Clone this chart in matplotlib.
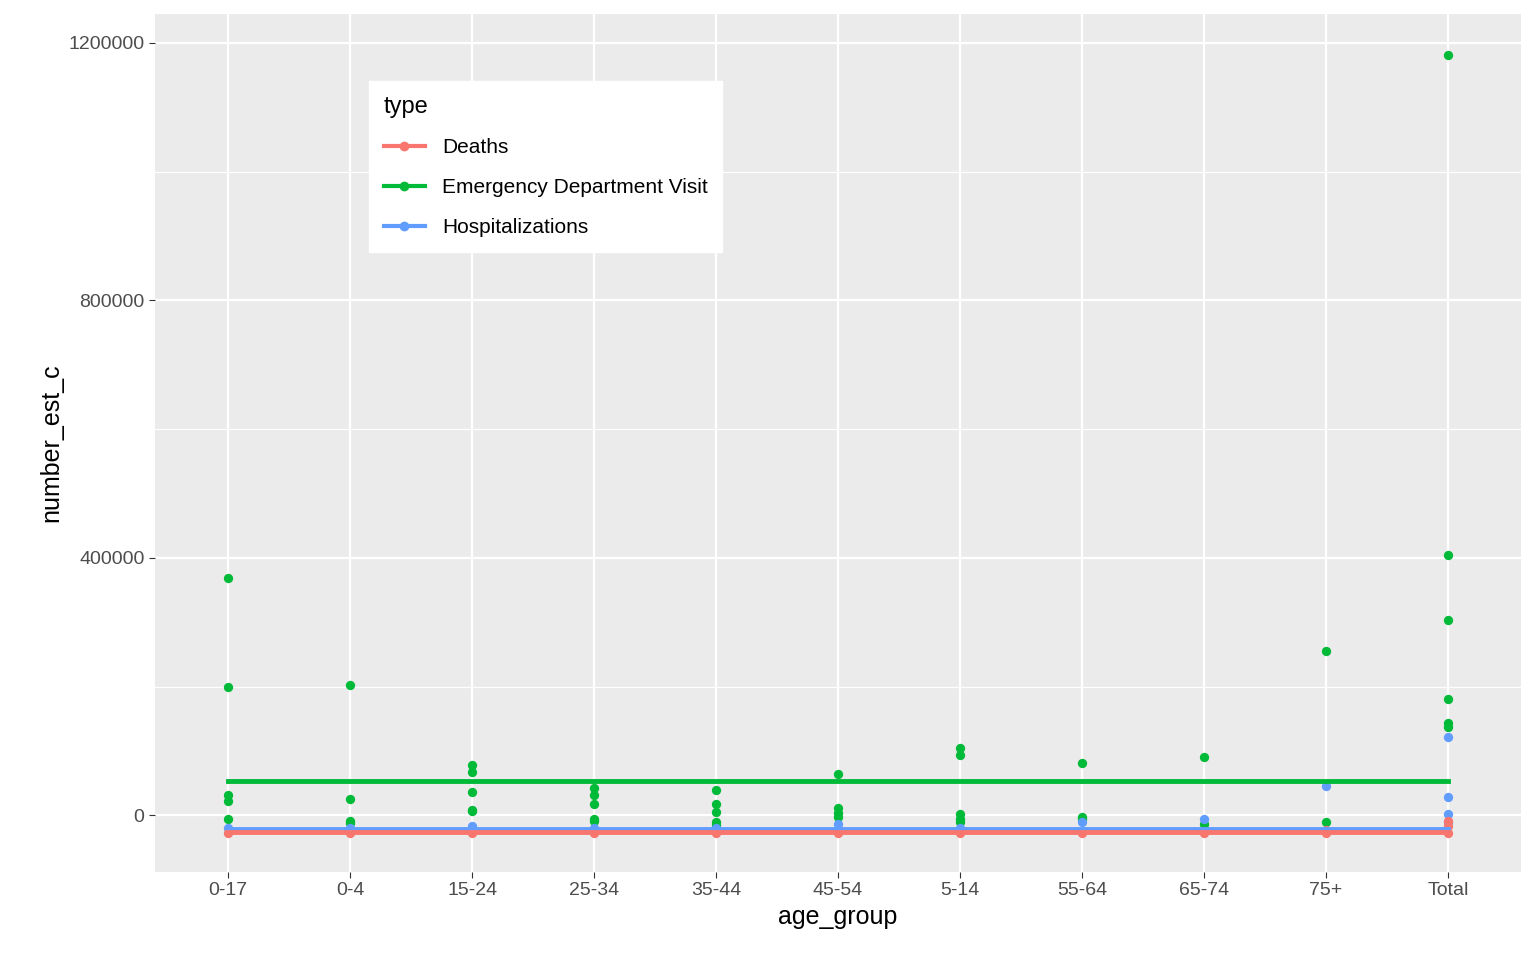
import matplotlib.pyplot as plt
from matplotlib.lines import Line2D

plt.rcParams['font.family'] = ['Liberation Sans', 'DejaVu Sans']

age_groups = ["0-17", "0-4", "15-24", "25-34", "35-44", "45-54", "5-14", "55-64", "65-74", "75+", "Total"]

ed_visits = {
    "0-17": [368000, 200000, 31000, 22000, -5000],
    "0-4": [202000, 25000, -9000, -12000],
    "15-24": [77600, 68000, 37000, 9000, 6000],
    "25-34": [43000, 31000, 17000, -6000, -9000],
    "35-44": [40000, 17000, 5000, -11000, -15000],
    "45-54": [65000, 12000, 3000, -3000],
    "5-14": [104000, 93000, 2000, -5000, -11000],
    "55-64": [82000, -2000, -6000],
    "65-74": [91000, -14000],
    "75+": [256000, -11000],
    "Total": [1181000, 404000, 304000, 180000, 144000, 137000],
}
hospitalizations = {
    "0-17": [-20000], "0-4": [-20000], "15-24": [-17000], "25-34": [-20000],
    "35-44": [-20000], "45-54": [-14000], "5-14": [-20000], "55-64": [-11000],
    "65-74": [-5000], "75+": [45000], "Total": [121000, 29000, 1500, -11000],
}
deaths = {
    "0-17": [-28000], "0-4": [-28000], "15-24": [-28000], "25-34": [-28000],
    "35-44": [-28000], "45-54": [-28000], "5-14": [-28000], "55-64": [-28000],
    "65-74": [-28000], "75+": [-23000, -28000], "Total": [-9000, -17000, -28000],
}
mean_lines = {"Deaths": -26400, "Emergency Department Visit": 52800, "Hospitalizations": -21700}
y_ticks = [0, 400000, 800000, 1200000]

colors = {"Deaths": "#F8766D", "Emergency Department Visit": "#00BA38", "Hospitalizations": "#619CFF"}
series = [("Emergency Department Visit", ed_visits), ("Hospitalizations", hospitalizations), ("Deaths", deaths)]

fig = plt.figure(figsize=(15.36, 9.6), dpi=100)
ax = fig.add_axes([155 / 1536, 88 / 960, 1366 / 1536, 858 / 960])
ax.set_facecolor("#EBEBEB")

for name, data in series:
    for i, g in enumerate(age_groups):
        ys = data[g]
        ax.scatter([i] * len(ys), ys, s=45, color=colors[name], zorder=3, linewidths=0)
for name, data in series:
    ax.plot([0, len(age_groups) - 1], [mean_lines[name]] * 2, color=colors[name], lw=3.5, zorder=4)

ax.set_xlim(-0.6, len(age_groups) - 0.4)
ax.set_ylim(-88000, 1245000)
ax.set_xticks(range(len(age_groups)))
ax.set_xticklabels(age_groups)
ax.set_yticks(y_ticks)
ax.set_yticklabels([str(v) for v in y_ticks])
ax.set_yticks([200000, 600000, 1000000], minor=True)
ax.grid(True, which="major", color="white", lw=1.6)
ax.grid(True, which="minor", axis="y", color="white", lw=0.8)
ax.set_axisbelow(True)
for s in ax.spines.values():
    s.set_visible(False)
ax.tick_params(which="both", length=4, color="#333333", labelsize=14, labelcolor="#4D4D4D")
ax.tick_params(which="minor", length=0)
ax.set_xlabel("age_group", fontsize=18, labelpad=4)
ax.set_ylabel("number_est_c", fontsize=18)

handles = [Line2D([], [], color=colors[n], lw=3, marker="o", markersize=6) for n in colors]
leg = fig.legend(handles, list(colors), title="type", loc="upper left", bbox_to_anchor=(369 / 1536, 1 - 81 / 960),
                 fontsize=15, title_fontsize=17, frameon=True, fancybox=False, edgecolor="white",
                 framealpha=1, handlelength=2, labelspacing=1.0, borderpad=0.7, borderaxespad=0,
                 alignment="left")
leg.get_frame().set_facecolor("white")

fig.savefig("out.png", dpi=100)
